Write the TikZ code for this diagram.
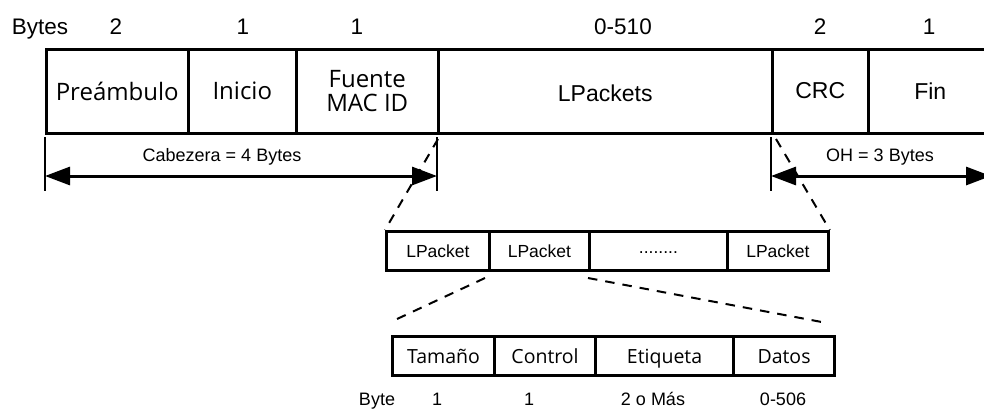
\documentclass[tikz,border=0pt]{standalone}
\usepackage{fontspec}
\setmainfont{Liberation Sans}
\newfontfamily\os{Open Sans}
\usetikzlibrary{arrows.meta}
\begin{document}
\begin{tikzpicture}[x=1pt,y=-1pt,
  cellA/.style={draw,line width=2.5pt,inner sep=0pt,anchor=north west,minimum height=84pt},
  cellB/.style={draw,line width=2.8pt,inner sep=0pt,anchor=north west,minimum height=39pt,font=\fontsize{17.5}{20}\selectfont,text height=12.5pt,text depth=0pt},
  cellC/.style={draw,line width=3.1pt,inner sep=0pt,anchor=north west,minimum height=39pt,font=\os\fontsize{19.5}{22}\selectfont,text height=14pt,text depth=0pt},
  toplab/.style={font=\fontsize{22.5}{26}\selectfont,inner sep=0pt,text height=16pt,text depth=0pt},
  sizelab/.style={font=\fontsize{18}{20}\selectfont,inner sep=0pt,text height=13pt,text depth=0pt},
  tick/.style={line width=2pt},
  dimarrow/.style={line width=3pt,{Triangle[length=25pt,width=18pt]}-{Triangle[length=25pt,width=18pt]}},
  dashline/.style={line width=2pt,dash pattern=on 9.5pt off 8pt}
]
\useasboundingbox (0,0) rectangle (984,408);
% top labels
\node[toplab] (bytes) at (40,26) {Bytes};
\node[toplab] (b1) at (116,26) {2};
\node[toplab] (b2) at (243,26) {1};
\node[toplab] (b3) at (357,26) {1};
\node[toplab] (b4) at (623,26) {0-510};
\node[toplab] (b5) at (820,26) {2};
\node[toplab] (b6) at (929,26) {1};
% main frame
\node[cellA,minimum width=142pt,font=\os\fontsize{24}{25}\selectfont] (pre) at (45,48) {Preámbulo};
\node[cellA,minimum width=108pt,font=\os\fontsize{24}{25}\selectfont] (ini) at (187,48) {Inicio};
\node[cellA,minimum width=142pt,font=\os\fontsize{24}{25}\selectfont,align=center] (fue) at (295,48) {Fuente\\[-1pt]MAC ID};
\node[cellA,minimum width=334pt,font=\fontsize{23}{26}\selectfont,text height=16.5pt,text depth=0pt] (lpk) at (437,48) {\raisebox{-2pt}{LPackets}};
\node[cellA,minimum width=96pt,font=\fontsize{23}{26}\selectfont,text height=16.5pt,text depth=0pt] (crc) at (771,48) {\raisebox{1.5pt}{CRC}};
\node[cellA,minimum width=124pt,font=\fontsize{23}{26}\selectfont,text height=16.5pt,text depth=0pt] (fin) at (867,48) {Fin};
% ticks
\coordinate (t1a) at (45,137); \coordinate (t1b) at (45,191);
\coordinate (t2a) at (437,137); \coordinate (t2b) at (437,191);
\coordinate (t3a) at (771,137); \coordinate (t3b) at (771,191);
\draw[tick] (t1a) -- (t1b);
\draw[tick] (t2a) -- (t2b);
\draw[tick] (t3a) -- (t3b);
% dimension arrows
\coordinate (a1) at (45,176); \coordinate (a2) at (437,176);
\coordinate (a3) at (771,176); \coordinate (a4) at (991,176);
\draw[dimarrow] (a1) -- (a2);
\draw[dimarrow] (a3) -- (a4);
\node[sizelab] (cab) at (222,155) {Cabezera = 4 Bytes};
\node[sizelab] (oh) at (880,155) {OH = 3 Bytes};
% LPacket row
\node[cellB,minimum width=103pt] (lp1) at (385,230) {LPacket};
\node[cellB,minimum width=100pt] (lp2) at (488,230) {LPacket};
\node[cellB,minimum width=138pt] (lp3) at (588,230) {\raisebox{3.5pt}{........}};
\node[cellB,minimum width=101pt] (lp4) at (726,230) {LPacket};
% dashed zoom lines to LPacket row
\coordinate (d1) at (438,139);
\coordinate (d2) at (776,139);
\draw[dashline] (d1) -- (lp1.north west);
\draw[dashline] (d2) -- (lp4.north east);
% field row
\node[cellC,minimum width=102pt] (tam) at (391,335) {Tamaño};
\node[cellC,minimum width=101pt] (con) at (493,335) {Control};
\node[cellC,minimum width=138pt] (eti) at (594,335) {Etiqueta};
\node[cellC,minimum width=101pt] (dat) at (732,335) {Datos};
% dashed zoom lines to field row
\coordinate (e1) at (485,278); \coordinate (e2) at (397,319);
\coordinate (e3) at (588,278); \coordinate (e4) at (827,323);
\draw[dashline] (e1) -- (e2);
\draw[dashline] (e3) -- (e4);
% bottom labels
\node[sizelab] (byte) at (377,399) {Byte};
\node[sizelab] (s1) at (437,399) {1};
\node[sizelab] (s2) at (529,399) {1};
\node[sizelab] (s3) at (653,399) {2 o Más};
\node[sizelab] (s4) at (783,399) {0-506};
\end{tikzpicture}
\end{document}
